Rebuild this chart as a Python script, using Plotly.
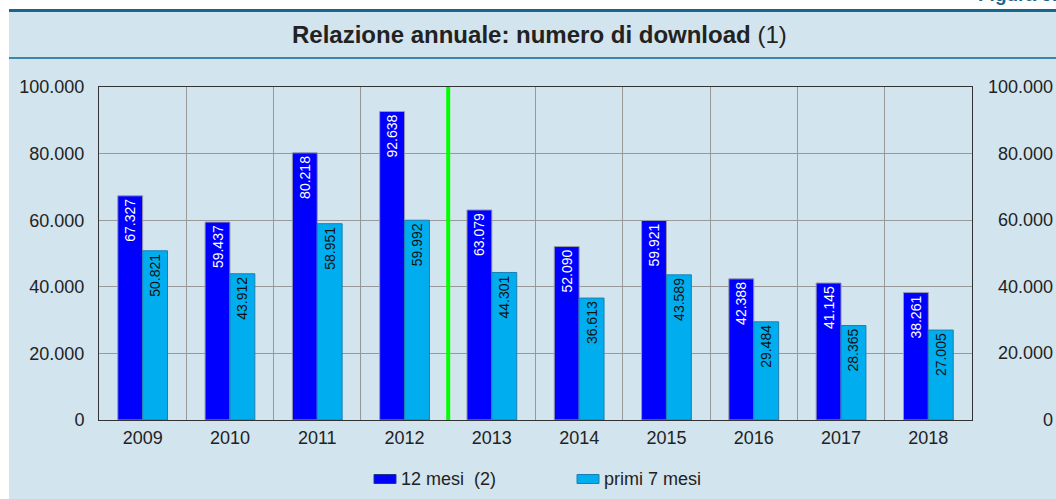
import plotly.graph_objects as go

# ---- data ----
years = ["2009", "2010", "2011", "2012", "2013", "2014", "2015", "2016", "2017", "2018"]
dl_12_mesi = [67327, 59437, 80218, 92638, 63079, 52090, 59921, 42388, 41145, 38261]
dl_primi_7 = [50821, 43912, 58951, 59992, 44301, 36613, 43589, 29484, 28365, 27005]
y_ticks = [0, 20000, 40000, 60000, 80000, 100000]
y_tick_labels = ["0", "20.000", "40.000", "60.000", "80.000", "100.000"]
separator_after = "2012"
series_names = ["12 mesi  (2)", "primi 7 mesi"]
series_colors = ["#0000ff", "#00aeef"]
series_edges = ["#9a9aa8", "#1a7fb0"]
label_colors = ["white", "#111111"]

# ---- layout geometry (pixels) ----
W, H = 1056, 499
L, R, T, B = 99, 972, 87, 420


def px_x(p):
    return (p - L) / (R - L)


def px_y(p):
    return (B - p) / (B - T)


FONT = "Liberation Sans, Arial, Helvetica, sans-serif"
BG = "#d2e4ee"
TXT = "#222222"

fig = go.Figure()
for name, vals, col, edge, lc in zip(series_names, [dl_12_mesi, dl_primi_7],
                                     series_colors, series_edges, label_colors):
    fig.add_trace(go.Bar(
        x=years, y=vals, name=name,
        marker=dict(color=col, line=dict(color=edge, width=1)),
        texttemplate="%{y:,.0f}", textposition="inside", insidetextanchor="end",
        textangle=-90, insidetextfont=dict(color=lc, size=14, family=FONT),
        hoverinfo="skip", showlegend=False,
    ))

shapes = [
    # light blue background panel
    dict(type="rect", xref="paper", yref="paper", layer="below",
         x0=px_x(9), x1=px_x(W + 5), y0=px_y(H + 5), y1=px_y(9),
         fillcolor=BG, line=dict(width=0)),
    # top dark rule
    dict(type="line", xref="paper", yref="paper",
         x0=px_x(9), x1=px_x(W + 5), y0=px_y(10.5), y1=px_y(10.5),
         line=dict(color="#17668c", width=3)),
    # rule under title band
    dict(type="line", xref="paper", yref="paper",
         x0=px_x(9), x1=px_x(W + 5), y0=px_y(58), y1=px_y(58),
         line=dict(color="#3d86a8", width=2)),
    # lighter grid line between 2011 and 2012
    dict(type="line", xref="x", yref="paper",
         x0=years.index("2011") + 0.5, x1=years.index("2011") + 0.5, y0=0, y1=1,
         line=dict(color="#d0d0d0", width=1), layer="below"),
    # green separator
    dict(type="line", xref="x", yref="paper",
         x0=years.index(separator_after) + 0.5, x1=years.index(separator_after) + 0.5,
         y0=0, y1=1, line=dict(color="#00ff00", width=4)),
]

annotations = [
    dict(text="<b>Relazione annuale: numero di download</b> (1)",
         xref="paper", yref="paper", x=px_x(539), y=px_y(35),
         xanchor="center", yanchor="middle", showarrow=False,
         font=dict(size=24, color=TXT, family=FONT)),
    dict(text="<b>Figura 5.</b>", xref="paper", yref="paper",
         x=px_x(976), y=px_y(7), xanchor="left", yanchor="bottom",
         showarrow=False, font=dict(size=19, color="#17668c", family=FONT)),
]
# right-hand axis labels (right aligned)
for v, lab in zip(y_ticks, y_tick_labels):
    annotations.append(dict(text=lab, xref="paper", yref="y", x=px_x(1055), y=v,
                            xanchor="right", yanchor="middle", showarrow=False,
                            font=dict(size=18, color=TXT, family=FONT)))

# legend (drawn manually to match symbol shape / spacing)
legend_sym_x = [374, 577]
legend_y = 479
for name, col, edge, sx in zip(series_names, series_colors, series_edges, legend_sym_x):
    shapes.append(dict(type="rect", xref="paper", yref="paper",
                       x0=px_x(sx), x1=px_x(sx + 22), y0=px_y(legend_y + 4.5),
                       y1=px_y(legend_y - 4.5), fillcolor=col,
                       line=dict(color="#1a3a8a" if col == "#0000ff" else edge, width=1)))
    annotations.append(dict(text=name, xref="paper", yref="paper", x=px_x(sx + 25),
                            y=px_y(legend_y), xanchor="left", yanchor="middle",
                            showarrow=False, font=dict(size=18, color=TXT, family=FONT)))

fig.update_layout(
    width=W, height=H,
    margin=dict(l=L, r=W - R, t=T, b=H - B, pad=0),
    paper_bgcolor="white", plot_bgcolor="white",
    separators=",.",
    barmode="group", bargap=0.43, bargroupgap=0,
    font=dict(family=FONT, size=18, color=TXT),
    showlegend=False,
    uniformtext=dict(minsize=14, mode="show"),
    xaxis=dict(type="category", tickson="boundaries", showgrid=True, gridcolor="#999999",
               gridwidth=1, ticks="", showline=True, linecolor="#333333", linewidth=1,
               mirror=True, tickfont=dict(size=18, color=TXT), ticklabelstandoff=1,
               fixedrange=True),
    yaxis=dict(range=[0, 100000], tickvals=y_ticks, ticktext=y_tick_labels,
               showgrid=True, gridcolor="#999999", gridwidth=1, ticks="",
               showline=True, linecolor="#333333", linewidth=1, mirror=True,
               zeroline=False, tickfont=dict(size=18, color=TXT),
               ticklabelstandoff=10, fixedrange=True),
    shapes=shapes, annotations=annotations,
)

fig.write_html(
    "out.html",
    config={"displayModeBar": False},
    post_script="document.body.style.margin='0px';document.body.style.padding='0px';"
                "document.body.style.overflow='hidden';",
)
